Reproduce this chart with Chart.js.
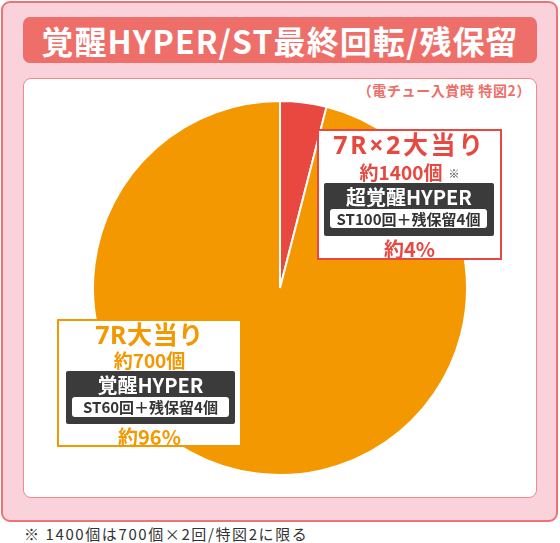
<!DOCTYPE html>
<html>
<head>
<meta charset="utf-8">
<script src="https://cdn.jsdelivr.net/npm/chart.js@4"></script>
<style>
  html, body { margin: 0; padding: 0; background: #fff; }
  body { width: 560px; height: 543px; position: relative; overflow: hidden;
         font-family: "Noto Sans CJK JP", "Noto Sans", sans-serif; }
  .abs { position: absolute; }
  #frame { left: 1px; top: 1px; width: 553px; height: 517px; background: #f9d2dc;
           border: 2px solid #ef7373; border-radius: 9px; }
  #titlebar { left: 23px; top: 17px; width: 514px; height: 46px; background: #ee6f69;
              border-radius: 7px; color: #fff; font-weight: 700; font-size: 32px;
              line-height: 46px; text-align: center; letter-spacing: 1.1px; }
  #panel { left: 23px; top: 78px; width: 512px; height: 418px; background: #fff;
           border: 1px solid #ef8a86; border-radius: 8px; }
  #sub { right: 29px; top: 79px; color: #ee6f69; font-weight: 700; font-size: 14px; line-height: 22px;
         letter-spacing: 0.6px; }
  #pie { left: 90px; top: 98px; }
  .box { background: #fff; border: 2px solid; box-sizing: border-box; text-align: center; }
  .line { position: absolute; left: 0; right: 0; font-weight: 700; white-space: nowrap; }
  .head { font-family: "Noto Sans", "Noto Sans CJK JP", sans-serif; }
  .dark { position: absolute; background: #3b3b3b; border-radius: 2px; }
  .pill { position: absolute; background: #fff; border-radius: 3px; color: #333; font-weight: 700;
          font-size: 15px; text-align: center; white-space: nowrap; }
  #note { left: 24px; top: 523px; font-size: 15px; color: #333; line-height: 22px; letter-spacing: 1.6px; }
</style>
</head>
<body>
<div id="frame" class="abs"></div>
<div id="titlebar" class="abs"></div>
<div id="panel" class="abs"></div>
<div id="sub" class="abs"></div>
<canvas id="pie" class="abs" width="380" height="380"></canvas>
<div id="labels"></div>
<div id="note" class="abs"></div>
<script>
// chart data
const title = "覚醒HYPER/ST最終回転/残保留";
const subtitle = "（電チュー入賞時 特図2）";
const footnote = "※ 1400個は700個×2回/特図2に限る";

const categories = ["7R×2大当り", "7R大当り"];
const shares = [4, 96];
const sliceColors = ["#e8483f", "#f39800"];

const payouts = ["約1400個", "約700個"];
const modes = ["超覚醒HYPER", "覚醒HYPER"];
const stSpins = ["ST100回＋残保留4個", "ST60回＋残保留4個"];
const shareLabels = ["約4%", "約96%"];

document.getElementById("titlebar").textContent = title;
document.getElementById("sub").textContent = subtitle;
document.getElementById("note").textContent = footnote;

const ctx = document.getElementById("pie").getContext("2d");

new Chart(ctx, {
    type: "pie",
    data: {
        labels: categories,
        datasets: [{
            data: shares,
            backgroundColor: sliceColors,
            borderColor: "#fff",
            borderWidth: 2,
        }]
    },
    options: {
        responsive: false,
        animation: false,
        radius: 187,
        layout: { padding: 0 },
        plugins: {
            legend: { display: false },
            tooltip: { enabled: false },
        },
    },
});

// label boxes over the pie (layout per slice)
const boxes = [
    { x: 317, y: 129, w: 185, h: 131, head: 25, ls: 2.6, sub: 19, dark: [7, 54, 170, 53], pill: [6, 26, 157, 19], mark: true },
    { x: 57, y: 319, w: 185, h: 128, head: 25, ls: 0.6, sub: 19, dark: [9, 52, 169, 53], pill: [6, 26, 157, 20], mark: false },
];

const holder = document.getElementById("labels");
categories.forEach((cat, i) => {
    const b = boxes[i];
    const c = sliceColors[i];
    const el = document.createElement("div");
    el.className = "abs box";
    el.style.cssText += `left:${b.x}px;top:${b.y}px;width:${b.w}px;height:${b.h}px;border-color:${c};`;
    const [dx, dy, dw, dh] = b.dark;
    const [px, py, pw, ph] = b.pill;
    el.innerHTML = `
        <div class="line head" style="top:-3px;height:32px;line-height:32px;font-size:${b.head}px;letter-spacing:${b.ls}px;color:${c}">${cat}</div>
        <div class="line" style="top:${dy - 25}px;height:24px;line-height:24px;font-size:${b.sub}px;color:${c}">${payouts[i]}${b.mark ? '<span style="font-size:11px;color:#333;font-weight:400;margin-left:6px;position:relative;top:-2px">※</span>' : ''}</div>
        <div class="dark" style="left:${dx - 2}px;top:${dy - 2}px;width:${dw}px;height:${dh}px">
            <div class="line" style="top:1px;height:26px;line-height:26px;font-size:20px;color:#fff">${modes[i]}</div>
            <div class="pill" style="left:${px}px;top:${py}px;width:${pw}px;height:${ph}px;line-height:${ph}px">${stSpins[i]}</div>
        </div>
        <div class="line" style="top:${dy + dh - 2}px;height:26px;line-height:26px;font-size:20px;color:${c}">${shareLabels[i]}</div>
    `;
    holder.appendChild(el);
});
</script>
</body>
</html>
